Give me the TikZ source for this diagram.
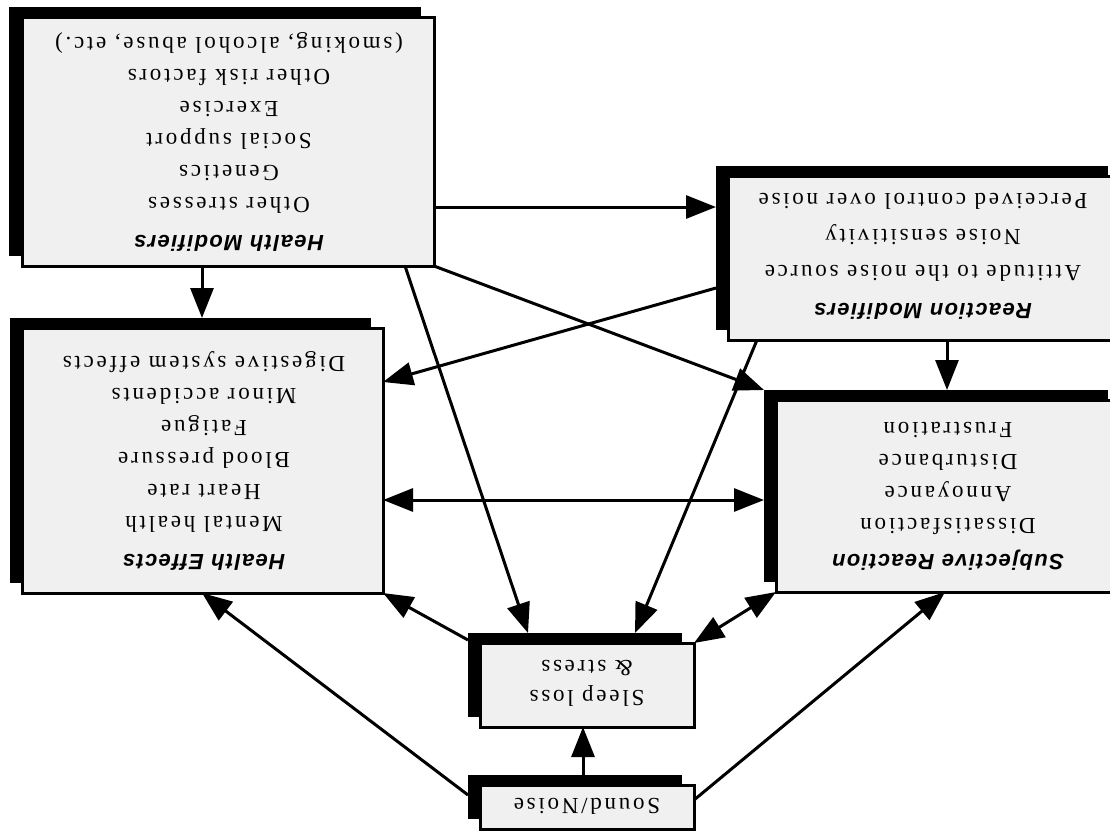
\documentclass[tikz,border=0pt]{standalone}
\usepackage{fontspec}
\setmainfont{Liberation Serif}
\newfontfamily\bodyfont[LetterSpace=12]{Liberation Serif}
\newfontfamily\headfont[LetterSpace=6]{Liberation Sans}
\usetikzlibrary{arrows.meta,calc}
\tikzset{
 box/.style={draw, line width=3pt, fill=black!6, rectangle, inner sep=0pt, outer sep=0pt},
 shadowbox/.style={fill=black, draw=none, rectangle, inner sep=0pt, outer sep=0pt},
 txt/.style={rotate=180, align=center, font=\bodyfont\fontsize{23}{32}\selectfont, inner sep=0pt},
 conn/.style={line width=3pt, -{Triangle[length=30pt,width=23pt]}},
 conntwo/.style={line width=3pt, {Triangle[length=30pt,width=23pt]}-{Triangle[length=30pt,width=23pt]}},
}
\newcommand\hd[1]{{\headfont\bfseries\itshape\fontsize{22}{32}\selectfont #1}}
\begin{document}
\begin{tikzpicture}[x=1pt,y=-1pt]
\useasboundingbox[fill=white] (0,0) rectangle (1110,830);
% shadows
\node[shadowbox, minimum width=412pt, minimum height=249pt] (hms) at (215,131) {};
\node[shadowbox, minimum width=392pt, minimum height=164pt] (rms) at (912,248) {};
\node[shadowbox, minimum width=361pt, minimum height=265pt] (hes) at (190.5,450.5) {};
\node[shadowbox, minimum width=344pt, minimum height=192pt] (srs) at (936,486) {};
\node[shadowbox, minimum width=214pt, minimum height=84pt] (sls) at (575,675) {};
\node[shadowbox, minimum width=214pt, minimum height=44pt] (sns) at (575,797) {};
% boxes
\node[box, minimum width=412pt, minimum height=249pt] (hm) at (228,141.5) {};
\node[box, minimum width=392pt, minimum height=164pt] (rm) at (924,258) {};
\node[box, minimum width=361pt, minimum height=265pt] (he) at (202.5,460.5) {};
\node[box, minimum width=344pt, minimum height=192pt] (sr) at (948,496) {};
\node[box, minimum width=214pt, minimum height=84pt] (sl) at (587,685) {};
\node[box, minimum width=214pt, minimum height=44pt] (sn) at (587,807) {};
% texts
\node[txt] (hmt) at (229,141.5) {\hd{Health Modifiers}\\[6pt]Other stresses\\Genetics\\Social support\\Exercise\\Other risk factors\\(smoking, alcohol abuse, etc.)};
\node[txt, font=\bodyfont\fontsize{23}{36}\selectfont] (rmt) at (923,256) {\hd{Reaction Modifiers}\\[2pt]Attitude to the noise source\\Noise sensitivity\\Perceived control over noise};
\node[txt] (het) at (204,461) {\hd{Health Effects}\\[6pt]Mental health\\Heart rate\\Blood pressure\\Fatigue\\Minor accidents\\Digestive system effects};
\node[txt] (srt) at (948,496.5) {\hd{Subjective Reaction}\\[4pt]Dissatisfaction\\Annoyance\\Disturbance\\Frustration};
\node[txt, font=\bodyfont\fontsize{23}{30}\selectfont] (slt) at (587,683) {Sleep loss\\\& stress};
\node[txt] (snt) at (587,806) {Sound/Noise};
% connectors
\draw[conn] (hm.east |- 0,207) -- (rms.west |- 0,207);
\draw[conn] (202,0 |- hm.south) -- (202,0 |- hes.north);
\draw[conn] (405,0 |- hm.south) -- (528,0 |- sls.north);
\draw[conn] (hm.south east) -- (srs.north west);
\draw[conn] (rms.west |- 0,288) -- (he.east |- 0,382);
\draw[conn] (757,0 |- rm.south) -- (635,0 |- sls.north);
\draw[conn] (947,0 |- rm.south) -- (947,0 |- srs.north);
\draw[conntwo] (he.east |- 0,500) -- (srs.west |- 0,500);
\draw[conntwo] (sl.north east) -- (sr.south west);
\draw[conn] (sls.west |- 0,640) -- (he.south east);
\draw[conn] (sns.west |- 0,795) -- (202,0 |- he.south);
\draw[conn] (583,0 |- sns.north) -- (583,0 |- sl.south);
\draw[conn] (sn.east |- 0,800) -- (945,0 |- sr.south);
\end{tikzpicture}
\end{document}
